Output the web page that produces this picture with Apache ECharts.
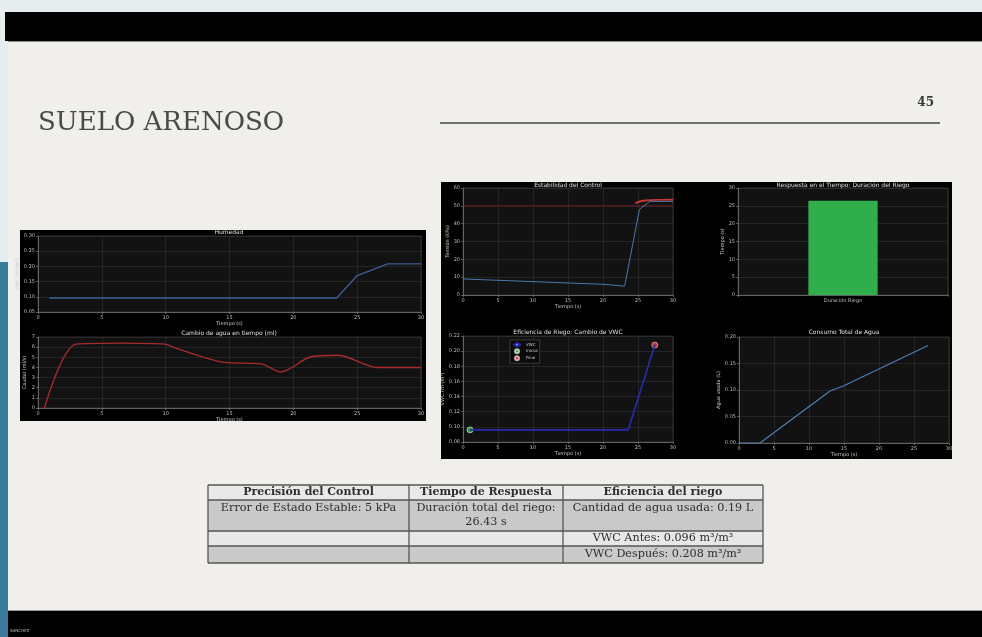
<!DOCTYPE html>
<html><head><meta charset="utf-8">
<script src="https://cdn.jsdelivr.net/npm/echarts@6/dist/echarts.min.js"></script>
<style>html,body{margin:0;padding:0;background:#e9edf0}#c{width:982px;height:637px}</style>
</head><body><div id="c"></div>
<script>
// ---- data ----
const humTime = [0.9, 23.4, 25.0, 27.4, 30];
const humVals = [0.096, 0.096, 0.170, 0.208, 0.208];
const waterTime = [0.5, 3.0, 6.5, 9.9, 11.0, 14.6, 17.5, 19.0, 21.4, 23.5, 26.6, 30];
const waterVals = [0, 6.3, 6.4, 6.3, 5.8, 4.5, 4.35, 3.55, 5.05, 5.2, 4.0, 4.0];
const ctrlTime = [0, 10, 20, 23.1, 25.2, 26.7, 30];
const ctrlVals = [9.0, 7.5, 6.0, 5.0, 48, 52.5, 52.5];
const ctrlRedTime = [24.6, 26.0, 30];
const ctrlRedVals = [51.5, 53, 53.5];
const setpointTime = [0, 30];
const setpointVals = [50, 50];
const durCats = ['Duración Riego'];
const durVals = [26.43];
const vwcTime = [1, 23.6, 27.4];
const vwcVals = [0.096, 0.096, 0.208];
const vwcInit = [[1, 0.096]];
const vwcFinal = [[27.4, 0.208]];
const useTime = [0, 3, 13, 14.9, 27];
const useVals = [0, 0, 0.098, 0.1075, 0.184];
const tableHeader = ['Precisión del Control', 'Tiempo de Respuesta', 'Eficiencia del riego'];
const tableRow1 = ['Error de Estado Estable: 5 kPa', 'Duración total del riego:\n26.43 s', 'Cantidad de agua usada: 0.19 L'];
const tableRow2 = ['', '', 'VWC Antes: 0.096 m³/m³'];
const tableRow3 = ['', '', 'VWC Después: 0.208 m³/m³'];
const chartTitles = ['Humedad', 'Cambio de agua en tiempo (ml)', 'Estabilidad del Control',
  'Respuesta en el Tiempo: Duración del Riego', 'Eficiencia de Riego: Cambio de VWC', 'Consumo Total de Agua'];

const zip = (a, b) => a.map((v, i) => [v, b[i]]);

// ---- styles ----
const lab = {color:'#bdbdbd', fontSize:5, fontFamily:'DejaVu Sans', margin:3};
function ax(extra){
  return Object.assign({
    axisLine:{show:true, onZero:false, lineStyle:{color:'#8a8a8a', width:0.6}},
    axisTick:{show:true, length:2, lineStyle:{color:'#8a8a8a', width:0.6}},
    axisLabel:Object.assign({}, lab),
    splitLine:{show:true, lineStyle:{color:'#363636', width:0.5}},
    nameTextStyle:{color:'#c8c8c8', fontSize:5, fontFamily:'DejaVu Sans'}
  }, extra);
}
function xT(gi){ return ax({type:'value', gridIndex:gi, min:0, max:30, interval:5, name:'Tiempo (s)', nameLocation:'middle', nameGap:9}); }
function yV(gi, min, max, iv, name, dec){
  const a = ax({type:'value', gridIndex:gi, min:min, max:max, interval:iv, name:name, nameLocation:'middle', nameRotate:90, nameGap:dec?17:11});
  a.axisLabel.formatter = v => dec ? (+v).toFixed(dec) : String(Math.round(v));
  return a;
}
const gridBase = {show:true, backgroundColor:'#121212', borderColor:'#555', borderWidth:0.5, containLabel:false};

const grids = [
  Object.assign({left:38, top:236, width:383, height:76}, gridBase),
  Object.assign({left:38, top:337, width:383, height:71}, gridBase),
  Object.assign({left:463, top:188, width:210, height:107}, gridBase),
  Object.assign({left:738, top:188, width:210, height:107}, gridBase),
  Object.assign({left:463, top:336, width:210, height:106}, gridBase),
  Object.assign({left:739, top:337, width:210, height:106}, gridBase)
];

const titleCenters = [[229,229],[229,330],[568,182],[843,182],[568,329],[844,329]];
const titles = chartTitles.map((t, i) => ({
  text:t, left:titleCenters[i][0], top:titleCenters[i][1], textAlign:'center', padding:0,
  textStyle:{color:'#e0e0e0', fontSize:6, fontWeight:'normal', fontFamily:'DejaVu Sans'}
}));

// ---- graphic (slide, heading, table) ----
const serif = 'DejaVu Serif';
const colX = [208, 409, 563, 763];
const rowY = [485, 500, 531, 546, 563];
const rowFill = ['#e9e9e9', '#c9c9c9', '#e7e7e7', '#cacaca'];
const rows = [tableHeader, tableRow1, tableRow2, tableRow3];
const gEls = [
  {type:'rect', z:-100, shape:{x:0, y:0, width:982, height:637}, style:{fill:'#e7ecef'}},
  {type:'rect', z:-99, shape:{x:5, y:12, width:977, height:29}, style:{fill:'#000'}},
  {type:'rect', z:-99, shape:{x:8, y:41, width:974, height:570}, style:{fill:'#f1efeb'}},
  {type:'line', z:-98, shape:{x1:8, y1:41.5, x2:982, y2:41.5}, style:{stroke:'#8a8a8a', lineWidth:1}},
  {type:'rect', z:-99, shape:{x:0, y:262, width:8, height:375}, style:{fill:'#3b7b9a'}},
  {type:'rect', z:-99, shape:{x:8, y:611, width:974, height:26}, style:{fill:'#000'}},
  {type:'line', z:-98, shape:{x1:8, y1:610.5, x2:982, y2:610.5}, style:{stroke:'#9a9a9a', lineWidth:1}},
  {type:'text', z:-97, x:10, y:631, style:{text:'SANCHEZ', fill:'#bbbbbb', fontSize:4, fontFamily:'DejaVu Sans', verticalAlign:'middle'}},
  {type:'text', z:-97, x:38, y:123, style:{text:'SUELO ARENOSO', fill:'#4a4a4a', fontSize:26, fontFamily:serif, verticalAlign:'middle'}},
  {type:'line', z:-97, shape:{x1:440, y1:123, x2:940, y2:123}, style:{stroke:'#6f6f6f', lineWidth:2}},
  {type:'text', z:-97, x:934, y:103, style:{text:'45', fill:'#3a3a3a', fontSize:12, fontWeight:'bold', fontFamily:serif, align:'right', verticalAlign:'middle'}},
  // chart panels
  {type:'rect', z:-90, shape:{x:20, y:230, width:406, height:191}, style:{fill:'#000'}},
  {type:'rect', z:-90, shape:{x:441, y:182, width:511, height:277}, style:{fill:'#000'}}
];
rows.forEach((r, ri) => {
  gEls.push({type:'rect', z:-89, shape:{x:colX[0], y:rowY[ri], width:colX[3]-colX[0], height:rowY[ri+1]-rowY[ri]}, style:{fill:rowFill[ri]}});
});
rowY.forEach(y => gEls.push({type:'line', z:-88, shape:{x1:colX[0], y1:y, x2:colX[3], y2:y}, style:{stroke:'#555', lineWidth:1.3}}));
colX.forEach(x => gEls.push({type:'line', z:-88, shape:{x1:x, y1:rowY[0], x2:x, y2:rowY[4]}, style:{stroke:'#555', lineWidth:1.3}}));
rows.forEach((r, ri) => {
  r.forEach((t, ci) => {
    if (!t) return;
    const cx = (colX[ci] + colX[ci+1]) / 2;
    const top = ri === 1;
    gEls.push({type:'text', z:-87, x:cx, y: top ? rowY[1] + 1 : (rowY[ri] + rowY[ri+1]) / 2,
      style:{text:t, fill:'#2e2e2e', fontSize: ri === 0 ? 11 : 11.2, lineHeight:14, fontWeight: ri === 0 ? 'bold' : 'normal',
        fontFamily:serif, align:'center', verticalAlign: top ? 'top' : 'middle'}});
  });
});

const option = {
  animation:false,
  backgroundColor:'#e7ecef',
  title:titles,
  grid:grids,
  legend:{data:['VWC','Inicial','Final'], left:510, top:340, orient:'vertical', itemGap:1, itemWidth:8, itemHeight:4,
    padding:2, backgroundColor:'#0b0b0b', borderColor:'#666', borderWidth:0.5,
    textStyle:{color:'#cccccc', fontSize:4, fontFamily:'DejaVu Sans'}},
  xAxis:[
    xT(0), xT(1), xT(2),
    ax({type:'category', gridIndex:3, data:durCats, axisLabel:Object.assign({}, lab), splitLine:{show:true, lineStyle:{color:'#363636', width:0.5}}}),
    xT(4), xT(5)
  ],
  yAxis:[
    yV(0, 0.05, 0.30, 0.05, 'VWC (m³/m³)', 2),
    yV(1, 0, 7, 1, 'Caudal (ml/s)', 0),
    yV(2, 0, 60, 10, 'Tensión (kPa)', 0),
    yV(3, 0, 30, 5, 'Tiempo (s)', 0),
    yV(4, 0.08, 0.22, 0.02, 'VWC (m³/m³)', 2),
    yV(5, 0, 0.2, 0.05, 'Agua usada (L)', 2)
  ],
  series:[
    {type:'line', name:'hum', xAxisIndex:0, yAxisIndex:0, data:zip(humTime, humVals), showSymbol:false,
      lineStyle:{color:'#3d5f93', width:1.3}},
    {type:'line', name:'agua', xAxisIndex:1, yAxisIndex:1, data:zip(waterTime, waterVals), showSymbol:false, smooth:0.3,
      lineStyle:{color:'#a82c2c', width:1.4}},
    {type:'line', name:'setpoint', xAxisIndex:2, yAxisIndex:2, data:zip(setpointTime, setpointVals), showSymbol:false,
      lineStyle:{color:'#6e1c22', width:1}},
    {type:'line', name:'tension', xAxisIndex:2, yAxisIndex:2, data:zip(ctrlTime, ctrlVals), showSymbol:false,
      lineStyle:{color:'#4a78a8', width:1}},
    {type:'line', name:'tensionFinal', xAxisIndex:2, yAxisIndex:2, data:zip(ctrlRedTime, ctrlRedVals), showSymbol:false, smooth:0.4,
      lineStyle:{color:'#c43838', width:1.8}},
    {type:'bar', name:'duracion', xAxisIndex:3, yAxisIndex:3, data:durVals, barWidth:'33%',
      itemStyle:{color:'#2fae4b'}},
    {type:'line', name:'VWC', xAxisIndex:4, yAxisIndex:4, data:zip(vwcTime, vwcVals), showSymbol:false,
      lineStyle:{color:'#2a2ab0', width:1.6}, itemStyle:{color:'#2a2ab0'}},
    {type:'scatter', name:'Inicial', xAxisIndex:4, yAxisIndex:4, data:vwcInit, symbolSize:6,
      itemStyle:{color:'#3fc03f', borderColor:'#cfe8cf', borderWidth:0.8}},
    {type:'scatter', name:'Final', xAxisIndex:4, yAxisIndex:4, data:vwcFinal, symbolSize:6,
      itemStyle:{color:'#e04040', borderColor:'#f0c8c8', borderWidth:0.8}},
    {type:'line', name:'consumo', xAxisIndex:5, yAxisIndex:5, data:zip(useTime, useVals), showSymbol:false,
      lineStyle:{color:'#4a7fb5', width:1.2}}
  ],
  graphic:{elements:gEls}
};
const chart = echarts.init(document.getElementById('c'), null, {renderer:'canvas'});
chart.setOption(option);
</script></body></html>
